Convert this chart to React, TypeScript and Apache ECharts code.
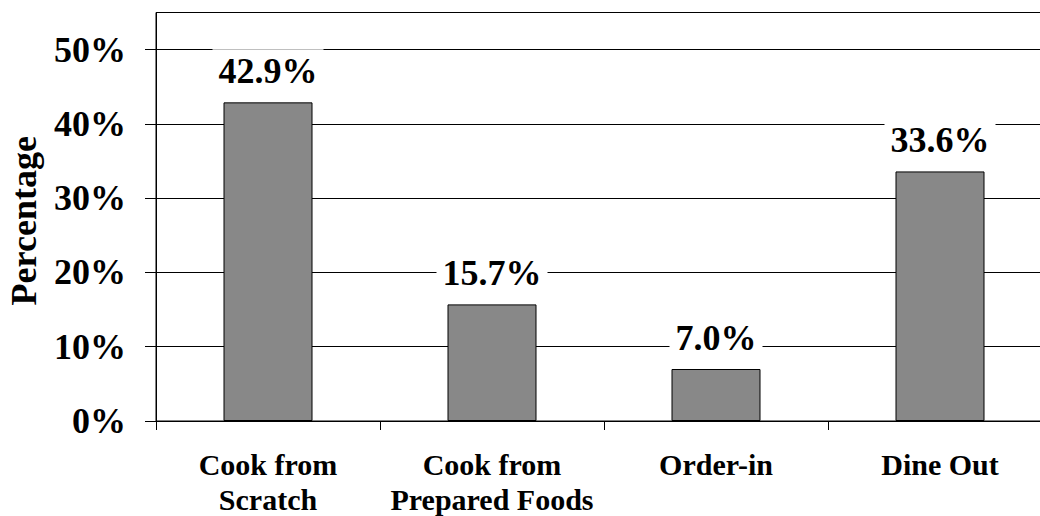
import React, { useEffect, useRef } from "react";
import * as echarts from "echarts";

const categories = ["Cook from\nScratch", "Cook from\nPrepared Foods", "Order-in", "Dine Out"];
const values = [42.9, 15.7, 7.0, 33.6];
const yTicks = [0, 10, 20, 30, 40, 50];

const FONT = "'Liberation Serif', 'Times New Roman', serif";

export default function App() {
  const ref = useRef<HTMLDivElement>(null);
  useEffect(() => {
    document.body.style.margin = "0";
    const chart = echarts.init(ref.current!, null, { renderer: "svg" });
    chart.setOption({
      animation: false,
      backgroundColor: "#fff",
      grid: {
        left: 156,
        top: 12.5,
        right: 0,
        bottom: 95,
        outerBoundsMode: "none",
        containLabel: false,
        show: true,
        borderColor: "#000",
        borderWidth: 1,
        backgroundColor: "transparent",
      },
      xAxis: {
        type: "category",
        data: categories,
        boundaryGap: true,
        axisLine: { lineStyle: { color: "#000", width: 1 } },
        axisTick: { show: true, alignWithLabel: false, length: 9, lineStyle: { color: "#000" } },
        axisLabel: {
          interval: 0,
          color: "#000",
          fontFamily: FONT,
          fontWeight: "bold",
          fontSize: 30,
          lineHeight: 35,
          margin: 26,
        },
      },
      yAxis: {
        type: "value",
        min: 0,
        max: 55,
        interval: 10,
        name: "Percentage",
        nameLocation: "middle",
        nameGap: 114,
        nameTextStyle: {
          color: "#000",
          fontFamily: FONT,
          fontWeight: "bold",
          fontSize: 36,
          padding: [0, 8, 0, 0],
        },
        axisLine: { show: true, lineStyle: { color: "#000", width: 1 } },
        axisTick: { show: true, length: 11, lineStyle: { color: "#000" }, customValues: yTicks },
        splitLine: { show: true, lineStyle: { color: "#000", width: 1 } },
        axisLabel: {
          customValues: yTicks,
          color: "#000",
          fontFamily: FONT,
          fontWeight: "bold",
          fontSize: 36,
          margin: 30,
          formatter: (v: number) => (v > 50 ? "" : v + "%"),
        },
      },
      series: [
        {
          type: "bar",
          data: values,
          barWidth: 89,
          itemStyle: { color: "#888888", borderColor: "#000", borderWidth: 1 },
          label: {
            show: true,
            position: "top",
            distance: 13,
            color: "#000",
            fontFamily: FONT,
            fontWeight: "bold",
            fontSize: 36,
            backgroundColor: "#fff",
            padding: [4, 6, 0, 6],
            formatter: (p: any) => Number(p.value).toFixed(1) + "%",
          },
        },
      ],
    });
    return () => chart.dispose();
  }, []);
  return (
    <div style={{ width: 1040, height: 516, overflow: "hidden", position: "relative" }}>
      <div ref={ref} style={{ width: 1052, height: 516 }} />
    </div>
  );
}
